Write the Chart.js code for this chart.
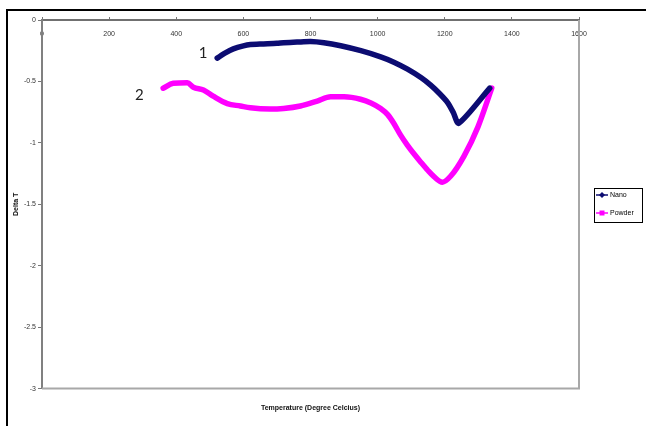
<!DOCTYPE html>
<html>
<head>
<meta charset="utf-8">
<script src="https://cdn.jsdelivr.net/npm/chart.js@4/dist/chart.umd.min.js"></script>
<style>
  html,body{margin:0;padding:0;background:#fff;}
  #wrap{width:646px;height:426px;position:relative;}
</style>
</head>
<body>
<div id="wrap"><canvas id="c" width="646" height="426"></canvas></div>
<script>
// ---- data ----
const seriesNames = ['Nano', 'Powder'];
const nanoT = [522, 545, 570, 600, 621, 660, 700, 720, 760, 800, 840, 890, 950, 1009, 1050, 1089, 1130, 1158, 1185, 1208, 1225, 1242, 1334];
const nanoV = [-0.31, -0.27, -0.235, -0.21, -0.20, -0.195, -0.19, -0.185, -0.18, -0.175, -0.185, -0.21, -0.25, -0.30, -0.345, -0.40, -0.47, -0.53, -0.60, -0.67, -0.75, -0.84, -0.555];
const powderT = [361, 391, 433, 451, 481, 510, 552, 591, 621, 680, 720, 770, 820, 860, 900, 949, 980, 1009, 1030, 1048, 1068, 1089, 1110, 1128, 1150, 1168, 1193, 1218, 1257, 1299, 1340];
const powderV = [-0.555, -0.515, -0.51, -0.547, -0.57, -0.62, -0.68, -0.70, -0.715, -0.725, -0.72, -0.70, -0.66, -0.625, -0.625, -0.645, -0.675, -0.72, -0.77, -0.84, -0.935, -1.02, -1.095, -1.155, -1.225, -1.275, -1.32, -1.27, -1.11, -0.87, -0.555];
const xTicks = [0, 200, 400, 600, 800, 1000, 1200, 1400, 1600];
const yTicks = [0, -0.5, -1, -1.5, -2, -2.5, -3];
const annotLabels = ['1', '2'];
const annotT = [480, 290];
const annotV = [-0.268, -0.61];
const xTitle = 'Temperature (Degree Celcius)';
const yTitle = 'Delta T';

const toPts = (xs, ys) => xs.map((x, i) => ({x: x, y: ys[i]}));

const decor = {
  id: 'decor',
  beforeDraw(chart) {
    const ctx = chart.ctx;
    ctx.save();
    ctx.strokeStyle = '#000';
    ctx.lineWidth = 2;
    ctx.beginPath();
    ctx.moveTo(7, 426);
    ctx.lineTo(7, 10);
    ctx.lineTo(646, 10);
    ctx.stroke();
    ctx.restore();
  },
  afterDraw(chart) {
    const ctx = chart.ctx;
    const a = chart.chartArea;
    ctx.save();
    // plot area right/bottom border
    ctx.strokeStyle = '#a8a8a8';
    ctx.lineWidth = 2;
    ctx.beginPath();
    ctx.moveTo(a.left, a.bottom);
    ctx.lineTo(a.right, a.bottom);
    ctx.lineTo(a.right, a.top);
    ctx.stroke();
    // annotations
    const xs = chart.scales.x, ys = chart.scales.y;
    ctx.fillStyle = '#222';
    ctx.font = '15px Lato, "Open Sans", sans-serif';
    ctx.textAlign = 'center';
    ctx.textBaseline = 'middle';
    annotLabels.forEach((t, i) => {
      ctx.fillText(t, xs.getPixelForValue(annotT[i]), ys.getPixelForValue(annotV[i]));
    });
    // legend
    const lx = 594, ly = 188, lw = 48, lh = 34;
    ctx.strokeStyle = '#000';
    ctx.lineWidth = 1;
    ctx.strokeRect(lx + 0.5, ly + 0.5, lw, lh);
    ctx.font = '7px "Liberation Sans", Arial, sans-serif';
    ctx.textAlign = 'left';
    chart.data.datasets.forEach((ds, i) => {
      const yy = ly + 7 + i * 18;
      ctx.strokeStyle = ds.borderColor;
      ctx.fillStyle = ds.borderColor;
      ctx.lineWidth = 1.5;
      ctx.beginPath();
      ctx.moveTo(lx + 2, yy);
      ctx.lineTo(lx + 14, yy);
      ctx.stroke();
      const cx = lx + 8;
      ctx.beginPath();
      if (i === 0) {
        ctx.moveTo(cx, yy - 3); ctx.lineTo(cx + 3, yy); ctx.lineTo(cx, yy + 3); ctx.lineTo(cx - 3, yy);
      } else {
        ctx.rect(cx - 2.5, yy - 2.5, 5, 5);
      }
      ctx.closePath();
      ctx.fill();
      ctx.fillStyle = '#000';
      ctx.fillText(ds.label, lx + 16, yy);
    });
    ctx.restore();
  }
};

new Chart(document.getElementById('c'), {
  type: 'scatter',
  data: {
    datasets: [
      {
        label: seriesNames[0],
        data: toPts(nanoT, nanoV),
        showLine: true,
        borderColor: '#0c0c72',
        backgroundColor: '#0c0c72',
        borderWidth: 5.5,
        pointRadius: 0,
        tension: 0.25,
        borderCapStyle: 'round',
        borderJoinStyle: 'round'
      },
      {
        label: seriesNames[1],
        data: toPts(powderT, powderV),
        showLine: true,
        borderColor: '#ff00ff',
        backgroundColor: '#ff00ff',
        borderWidth: 5.5,
        pointRadius: 0,
        cubicInterpolationMode: 'monotone',
        borderCapStyle: 'round',
        borderJoinStyle: 'round'
      }
    ]
  },
  options: {
    responsive: false,
    animation: false,
    devicePixelRatio: 1,
    layout: { padding: { left: 8, top: 16, right: 67, bottom: 4 } },
    plugins: {
      legend: { display: false },
      tooltip: { enabled: false },
      title: {
        display: true,
        position: 'bottom',
        fullSize: false,
        text: xTitle,
        color: '#111',
        font: { family: '"Liberation Sans", Arial, sans-serif', size: 7 },
        padding: { top: 15, bottom: 10 }
      }
    },
    scales: {
      x: {
        type: 'linear',
        position: 'top',
        min: 0, max: 1600,
        afterBuildTicks: s => { s.ticks = xTicks.map(v => ({value: v})); },
        afterFit: s => { s.height = 4; },
        grid: { drawOnChartArea: false, tickLength: 3, color: '#777', tickWidth: 1 },
        border: { color: '#707070', width: 2 },
        ticks: {
          mirror: true,
          padding: 10,
          color: '#333',
          maxRotation: 0,
          autoSkip: false,
          callback: v => String(v),
          font: { family: '"Liberation Sans", Arial, sans-serif', size: 7 }
        }
      },
      y: {
        type: 'linear',
        min: -3, max: 0,
        afterBuildTicks: s => { s.ticks = yTicks.map(v => ({value: v})); },
        afterFit: s => { s.width = 34; },
        grid: { drawOnChartArea: false, tickLength: 4, color: '#777', tickWidth: 1 },
        border: { color: '#808080', width: 2 },
        title: {
          display: true,
          text: yTitle,
          color: '#111',
          padding: { top: 4, bottom: 0 },
          font: { family: '"Liberation Sans", Arial, sans-serif', size: 7, weight: 'bold' }
        },
        ticks: {
          padding: 2,
          color: '#333',
          autoSkip: false,
          callback: v => String(v),
          font: { family: '"Liberation Sans", Arial, sans-serif', size: 7 }
        }
      }
    }
  },
  plugins: [decor]
});
</script>
</body>
</html>
